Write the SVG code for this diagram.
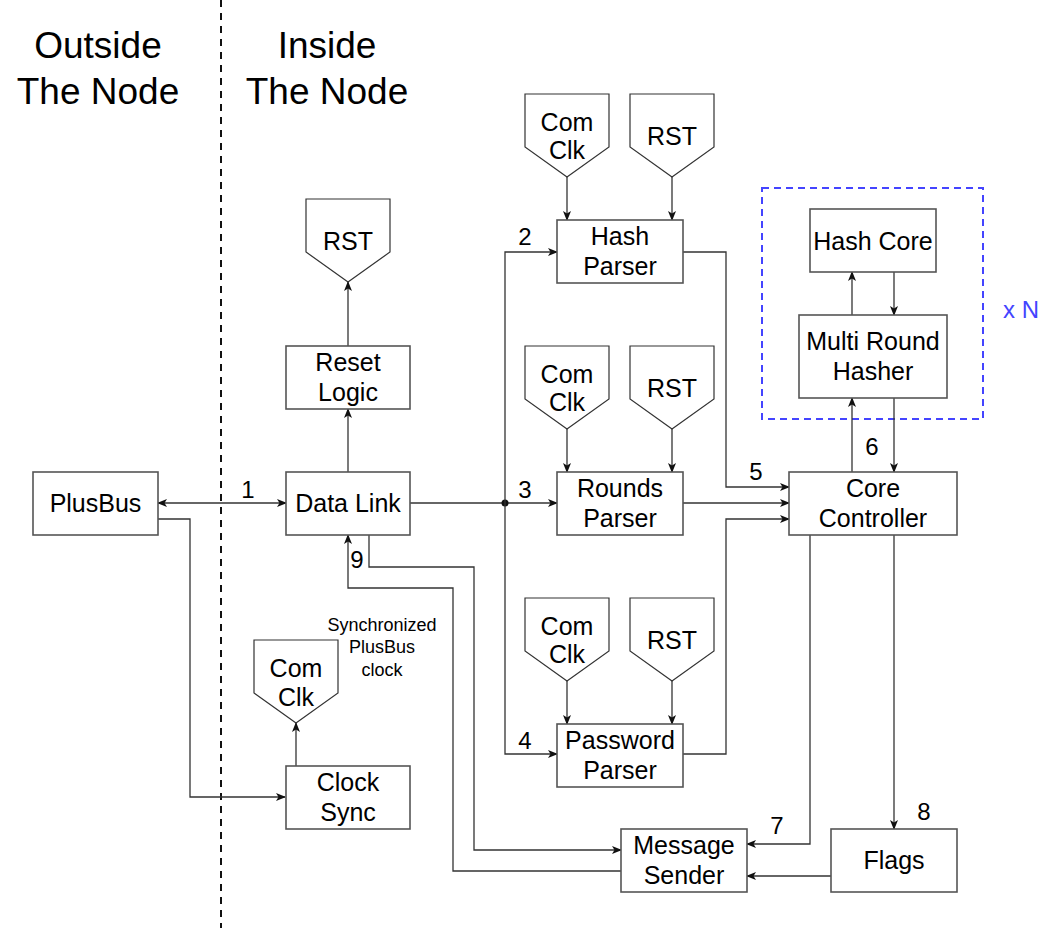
<svg xmlns="http://www.w3.org/2000/svg" width="1060" height="928" viewBox="0 0 1060 928">
<style>
text{font-family:"Liberation Sans",Arial,sans-serif;fill:#000;text-anchor:middle}
.t{font-size:25px}
.ti{font-size:37px}
.n{font-size:24px}
.s{font-size:18px}
.box{fill:#fff;stroke:#555;stroke-width:1.6}
.pent{fill:#fff;stroke:#333;stroke-width:1.2}
.w{fill:none;stroke:#333;stroke-width:1.3}
</style>
<defs>
<marker id="ah" markerUnits="userSpaceOnUse" markerWidth="10" markerHeight="10" viewBox="0 0 10 10" refX="9" refY="5" orient="auto-start-reverse">
<path d="M0,1 L10,5 L0,9 L2.5,5 z" fill="#111"/>
</marker>
</defs>
<rect width="1060" height="928" fill="#fff"/>
<line x1="221" y1="0" x2="221" y2="928" stroke="#111" stroke-width="2" stroke-dasharray="7,6"/>
<g id="titles">
<text class="ti" x="98" y="58">Outside</text>
<text class="ti" x="98" y="104">The Node</text>
<text class="ti" x="327" y="58">Inside</text>
<text class="ti" x="327" y="104">The Node</text>
</g>
<g id="group-box">
<rect x="762" y="188" width="221" height="231" fill="none" stroke="#4444ff" stroke-width="2" stroke-dasharray="7,5"/>
<text x="1021" y="318" style="font-size:24px;fill:#4444ff">x N</text>
</g>
<g id="connectors">
<line class="w" x1="158" y1="503" x2="286" y2="503" marker-start="url(#ah)" marker-end="url(#ah)"/>
<line class="w" x1="348" y1="472" x2="348" y2="409" marker-end="url(#ah)"/>
<line class="w" x1="348" y1="346" x2="348" y2="282" marker-end="url(#ah)"/>
<line class="w" x1="296" y1="766" x2="296" y2="723" marker-end="url(#ah)"/>
<path class="w" d="M158,519 H190 V797 H285" marker-end="url(#ah)"/>
<line class="w" x1="410" y1="503" x2="557" y2="503" marker-end="url(#ah)"/>
<circle cx="505" cy="503" r="3.5" fill="#111"/>
<path class="w" d="M505,503 V252 H557" marker-end="url(#ah)"/>
<path class="w" d="M505,503 V754 H557" marker-end="url(#ah)"/>
<line class="w" x1="567" y1="177" x2="567" y2="220" marker-end="url(#ah)"/>
<line class="w" x1="672" y1="177" x2="672" y2="220" marker-end="url(#ah)"/>
<line class="w" x1="567" y1="429" x2="567" y2="472" marker-end="url(#ah)"/>
<line class="w" x1="672" y1="429" x2="672" y2="472" marker-end="url(#ah)"/>
<line class="w" x1="567" y1="681" x2="567" y2="724" marker-end="url(#ah)"/>
<line class="w" x1="672" y1="681" x2="672" y2="724" marker-end="url(#ah)"/>
<path class="w" d="M683,252 H726 V487 H789" marker-end="url(#ah)"/>
<line class="w" x1="683" y1="503" x2="789" y2="503" marker-end="url(#ah)"/>
<path class="w" d="M683,754 H726 V519 H789" marker-end="url(#ah)"/>
<line class="w" x1="852" y1="472" x2="852" y2="398" marker-end="url(#ah)"/>
<line class="w" x1="894" y1="398" x2="894" y2="472" marker-end="url(#ah)"/>
<line class="w" x1="852" y1="315" x2="852" y2="272" marker-end="url(#ah)"/>
<line class="w" x1="894" y1="272" x2="894" y2="315" marker-end="url(#ah)"/>
<line class="w" x1="894" y1="535" x2="894" y2="829" marker-end="url(#ah)"/>
<path class="w" d="M810,535 V844 H747" marker-end="url(#ah)"/>
<line class="w" x1="831" y1="876" x2="747" y2="876" marker-end="url(#ah)"/>
<path class="w" d="M369,535 V567 H474 V850 H621" marker-end="url(#ah)"/>
<path class="w" d="M621,871 H453 V588 H348 V535" marker-end="url(#ah)"/>
<text class="n" x="248" y="498">1</text>
<text class="n" x="525" y="245">2</text>
<text class="n" x="525" y="498">3</text>
<text class="n" x="525" y="749">4</text>
<text class="n" x="756" y="480">5</text>
<text class="n" x="872" y="455">6</text>
<text class="n" x="777" y="834">7</text>
<text class="n" x="924" y="820">8</text>
<text class="n" x="357" y="568">9</text>
<text class="s" x="382" y="631">Synchronized</text>
<text class="s" x="382" y="653">PlusBus</text>
<text class="s" x="382" y="676">clock</text>
</g>
<g id="plusbus"><rect class="box" x="33" y="472" width="125" height="63"/><text class="t" x="95.5" y="512">PlusBus</text></g>
<g id="data-link"><rect class="box" x="286" y="472" width="124" height="63"/><text class="t" x="348" y="512">Data Link</text></g>
<g id="reset-logic"><rect class="box" x="286" y="346" width="124" height="63"/><text class="t" x="348" y="371">Reset</text><text class="t" x="348" y="401">Logic</text></g>
<g id="rst-left"><path class="pent" d="M306,199 H390 V252 L348,282 L306,252 Z"/><text class="t" x="348" y="250">RST</text></g>
<g id="clock-sync"><rect class="box" x="286" y="766" width="124" height="63"/><text class="t" x="348" y="791">Clock</text><text class="t" x="348" y="821">Sync</text></g>
<g id="comclk-left"><path class="pent" d="M254,640 H338 V693 L296,723 L254,693 Z"/><text class="t" x="296" y="677">Com</text><text class="t" x="296" y="706">Clk</text></g>
<g id="hash-parser"><rect class="box" x="557" y="220" width="126" height="63"/><text class="t" x="620" y="245">Hash</text><text class="t" x="620" y="275">Parser</text></g>
<g id="rounds-parser"><rect class="box" x="557" y="472" width="126" height="63"/><text class="t" x="620" y="497">Rounds</text><text class="t" x="620" y="527">Parser</text></g>
<g id="password-parser"><rect class="box" x="557" y="724" width="126" height="63"/><text class="t" x="620" y="749">Password</text><text class="t" x="620" y="779">Parser</text></g>
<g id="comclk-1"><path class="pent" d="M525,94 H609 V147 L567,177 L525,147 Z"/><text class="t" x="567" y="131">Com</text><text class="t" x="567" y="159">Clk</text></g>
<g id="rst-1"><path class="pent" d="M630,94 H714 V147 L672,177 L630,147 Z"/><text class="t" x="672" y="145">RST</text></g>
<g id="comclk-2"><path class="pent" d="M525,346 H609 V399 L567,429 L525,399 Z"/><text class="t" x="567" y="383">Com</text><text class="t" x="567" y="411">Clk</text></g>
<g id="rst-2"><path class="pent" d="M630,346 H714 V399 L672,429 L630,399 Z"/><text class="t" x="672" y="397">RST</text></g>
<g id="comclk-3"><path class="pent" d="M525,598 H609 V651 L567,681 L525,651 Z"/><text class="t" x="567" y="635">Com</text><text class="t" x="567" y="663">Clk</text></g>
<g id="rst-3"><path class="pent" d="M630,598 H714 V651 L672,681 L630,651 Z"/><text class="t" x="672" y="649">RST</text></g>
<g id="hash-core"><rect class="box" x="810" y="209" width="126" height="63"/><text class="t" x="873" y="250">Hash Core</text></g>
<g id="multi-round-hasher"><rect class="box" x="799" y="315" width="148" height="83"/><text class="t" x="873" y="350">Multi Round</text><text class="t" x="873" y="380">Hasher</text></g>
<g id="core-controller"><rect class="box" x="789" y="472" width="168" height="63"/><text class="t" x="873" y="497">Core</text><text class="t" x="873" y="527">Controller</text></g>
<g id="message-sender"><rect class="box" x="621" y="829" width="126" height="63"/><text class="t" x="684" y="854">Message</text><text class="t" x="684" y="884">Sender</text></g>
<g id="flags"><rect class="box" x="831" y="829" width="126" height="63"/><text class="t" x="894" y="869">Flags</text></g>
</svg>
